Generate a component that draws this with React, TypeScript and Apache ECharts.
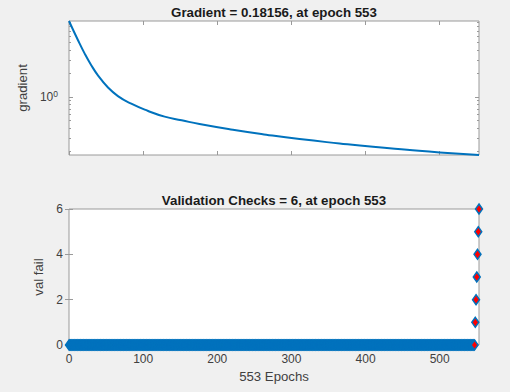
import React, { useEffect, useRef } from "react";
import * as echarts from "echarts";

// ---- data ----
const gradEpochs = [0, 12, 21, 30, 39, 52, 66, 84, 106, 129, 152, 176, 221, 266, 311, 365, 410, 456, 500, 553];
const gradValues = [9.4, 5.37, 3.62, 2.56, 1.9, 1.345, 1.03, 0.822, 0.668, 0.562, 0.505, 0.452, 0.382, 0.33, 0.29, 0.255, 0.231, 0.212, 0.196, 0.18156];
const gradMin = 0.18156;
const gradMax = 9.4;
const epochMax = 553;
const valFailTailStart = 547; // epochs before this all have val fail = 0
const valFailZero = 0;
const valFailTail = [0, 1, 2, 3, 4, 5, 6];
const xTicks = [0, 100, 200, 300, 400, 500];
const gradMajorTicks = [1];
const gradMinorTicks = [0.2, 0.3, 0.4, 0.5, 0.6, 0.7, 0.8, 0.9, 2, 3, 4, 5, 6, 7, 8, 9];
const valFailMax = 6;
const valFailInterval = 2;

const titleTop = "Gradient = 0.18156, at epoch 553";
const titleBottom = "Validation Checks = 6, at epoch 553";
const yNameTop = "gradient";
const yNameBottom = "val fail";
const xNameBottom = "553 Epochs";

const FONT = "'Liberation Sans', Arial, Helvetica, sans-serif";
const AXIS = "#9a9a9a";
const LABEL = "#404040";
const BLUE = "#0072bd";

export default function App() {
  const ref = useRef<HTMLDivElement>(null);
  useEffect(() => {
    document.body.style.margin = "0";
    if (!ref.current) return;
    const chart = echarts.init(ref.current, null, { renderer: "svg" });

    const tickStyle = (len: number, values: number[]) => ({
      show: true,
      inside: true,
      length: len,
      customValues: values,
      lineStyle: { color: AXIS, width: 1 },
    });
    const baseX = {
      type: "value" as const,
      min: 0,
      max: epochMax,
      axisLine: { show: false },
      splitLine: { show: false },
      axisLabel: { show: false },
    };
    const logY = {
      type: "log" as const,
      logBase: 10,
      min: gradMin,
      max: gradMax,
      gridIndex: 0,
      axisLine: { show: false },
      splitLine: { show: false },
      minorTick: { show: false },
      axisLabel: { show: false },
    };
    const valY = {
      type: "value" as const,
      min: 0,
      max: valFailMax,
      interval: valFailInterval,
      gridIndex: 1,
      axisLine: { show: false },
      splitLine: { show: false },
    };

    const zeroData = Array.from({ length: valFailTailStart }, (_, i) => [i, valFailZero]);
    const tailData = valFailTail.map((v, i) => [valFailTailStart + i, v]);

    chart.setOption({
      animation: false,
      backgroundColor: "#f0f0f0",
      textStyle: { fontFamily: FONT },
      graphic: [
        {
          type: "text",
          x: 274,
          y: 12,
          style: {
            text: titleTop,
            fill: "#1a1a1a",
            font: `bold 13.3px ${FONT}`,
            textAlign: "center",
            textVerticalAlign: "middle",
            align: "center",
            verticalAlign: "middle",
          },
        },
        {
          type: "text",
          x: 274,
          y: 200,
          style: {
            text: titleBottom,
            fill: "#1a1a1a",
            font: `bold 13.3px ${FONT}`,
            textAlign: "center",
            textVerticalAlign: "middle",
            align: "center",
            verticalAlign: "middle",
          },
        },
      ],
      grid: [
        { left: 69, top: 21, width: 410, height: 134, show: true, backgroundColor: "#ffffff", borderColor: AXIS, borderWidth: 1 },
        { left: 69, top: 209, width: 410, height: 136, show: true, backgroundColor: "#ffffff", borderColor: AXIS, borderWidth: 1 },
      ],
      xAxis: [
        { ...baseX, gridIndex: 0, position: "bottom", axisTick: tickStyle(4, xTicks) },
        { ...baseX, gridIndex: 0, position: "top", axisTick: tickStyle(4, xTicks) },
        {
          ...baseX,
          gridIndex: 1,
          position: "bottom",
          axisTick: tickStyle(4, xTicks),
          axisLabel: { show: true, customValues: xTicks, color: LABEL, fontSize: 12, margin: 8, fontFamily: FONT },
          name: xNameBottom,
          nameLocation: "middle",
          nameGap: 25,
          nameTextStyle: { color: LABEL, fontSize: 13.2, fontFamily: FONT },
        },
        { ...baseX, gridIndex: 1, position: "top", axisTick: tickStyle(4, xTicks) },
      ],
      yAxis: [
        {
          ...logY,
          position: "left",
          axisTick: tickStyle(4, gradMajorTicks),
          axisLabel: {
            show: true,
            customValues: gradMajorTicks,
            margin: 11,
            formatter: () => "{b|10}{s|0}",
            rich: {
              b: { fontSize: 12, color: LABEL, fontFamily: FONT },
              s: { fontSize: 8.5, color: LABEL, fontFamily: FONT, padding: [0, 0, 7, 0] },
            },
          },
          name: yNameTop,
          nameLocation: "middle",
          nameGap: 29,
          nameTextStyle: { color: LABEL, fontSize: 13.2, fontFamily: FONT },
        },
        { ...logY, position: "left", axisTick: tickStyle(2, gradMinorTicks) },
        { ...logY, position: "right", axisTick: tickStyle(4, gradMajorTicks) },
        { ...logY, position: "right", axisTick: tickStyle(2, gradMinorTicks) },
        {
          ...valY,
          position: "left",
          axisTick: { show: true, inside: true, length: 4, lineStyle: { color: AXIS } },
          axisLabel: { show: true, color: LABEL, fontSize: 12, margin: 6, fontFamily: FONT },
          name: yNameBottom,
          nameLocation: "middle",
          nameGap: 17,
          nameTextStyle: { color: LABEL, fontSize: 13.2, fontFamily: FONT },
        },
        {
          ...valY,
          position: "right",
          axisTick: { show: true, inside: true, length: 4, lineStyle: { color: AXIS } },
          axisLabel: { show: false },
        },
      ],
      series: [
        {
          type: "line",
          xAxisIndex: 0,
          yAxisIndex: 0,
          data: gradEpochs.map((e, i) => [e, gradValues[i]]),
          showSymbol: false,
          symbol: "none",
          smooth: 0.5,
          clip: false,
          lineStyle: { color: BLUE, width: 2 },
        },
        {
          type: "scatter",
          xAxisIndex: 2,
          yAxisIndex: 4,
          data: zeroData,
          symbol: "diamond",
          symbolSize: [7, 10],
          clip: false,
          itemStyle: { color: BLUE, borderColor: BLUE, borderWidth: 1.5, opacity: 1 },
        },
        {
          type: "scatter",
          xAxisIndex: 2,
          yAxisIndex: 4,
          data: tailData,
          symbol: "diamond",
          symbolSize: [7, 10],
          clip: false,
          itemStyle: { color: "#ff0000", borderColor: BLUE, borderWidth: 1.5, opacity: 1 },
        },
      ],
    });
    return () => chart.dispose();
  }, []);
  return <div ref={ref} style={{ width: 510, height: 392 }} />;
}
